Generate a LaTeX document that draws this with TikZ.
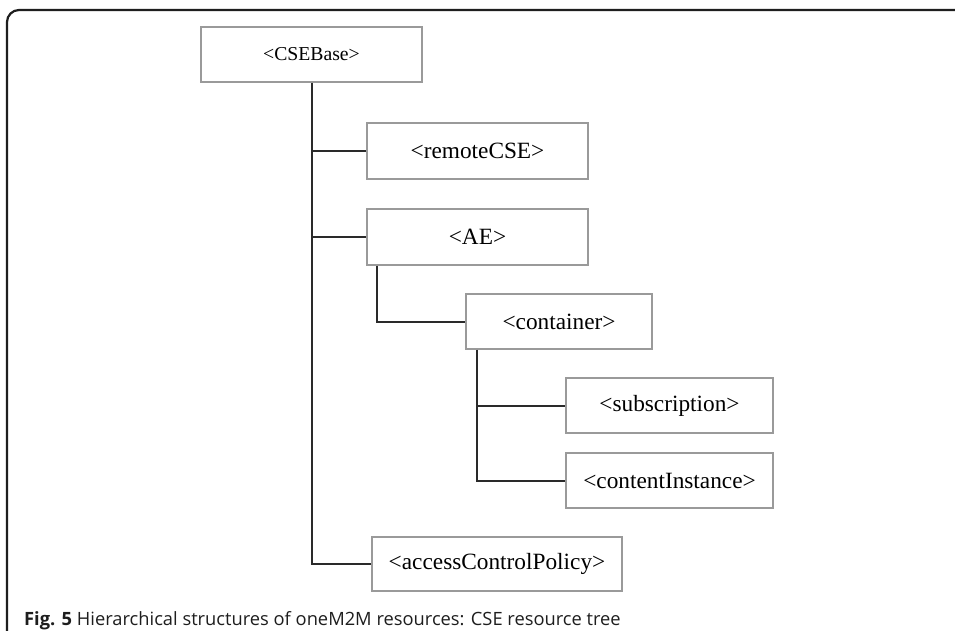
\documentclass[tikz,border=0pt]{standalone}
\usepackage{fontspec}
\setmainfont{Liberation Serif}
\newfontfamily\capfont{Open Sans}
\usetikzlibrary{calc}
\definecolor{boxline}{HTML}{9A9A9A}
\definecolor{wire}{HTML}{2A2A2A}
\definecolor{framec}{HTML}{1E1E1E}
\tikzset{
  resbox/.style={draw=boxline, line width=1.2pt, inner sep=0pt, anchor=center,
    font=\fontsize{23.3}{26}\selectfont},
  wireline/.style={draw=wire, line width=2pt},
}
\begin{document}
\begin{tikzpicture}[x=1pt, y=-1pt]
\useasboundingbox (0,0) rectangle (955,631);
\fill[white] (0,0) rectangle (955,631);
% frame
\draw[framec, line width=2.2pt, rounded corners=12pt] (7,640) -- (7,10) -- (965,10);
% boxes
\node[resbox, minimum width=221pt, minimum height=55pt, font=\fontsize{19.7}{22}\selectfont] (cse) at (311.5,54.5) {<CSEBase>};
\node[resbox, minimum width=221pt, minimum height=56pt] (remote) at (477.5,151) {<remoteCSE>};
\node[resbox, minimum width=221pt, minimum height=56pt] (ae) at (477.5,237) {<AE>};
\node[resbox, minimum width=186pt, minimum height=55pt] (cont) at (559,321.5) {<container>};
\node[resbox, minimum width=207pt, minimum height=55pt] (sub) at (669.5,405.5) {<subscription>};
\node[resbox, minimum width=207pt, minimum height=55pt] (ci) at (669.5,480.5) {<contentInstance>};
\node[resbox, minimum width=250pt, minimum height=54pt] (acp) at (497,564) {<accessControlPolicy>};
% connectors
\coordinate (aeleg) at ($(ae.south west)+(11,0)$);
\coordinate (contleg) at ($(cont.south west)+(12,0)$);
\draw[wireline] (cse.south) |- (acp.west);
\draw[wireline] (cse.south |- remote.west) -- (remote.west);
\draw[wireline] (cse.south |- ae.west) -- (ae.west);
\draw[wireline] (aeleg) |- (cont.west);
\draw[wireline] (contleg) |- (ci.west);
\draw[wireline] (contleg |- sub.west) -- (sub.west);
% caption
\node[anchor=base west, inner sep=0pt, text=framec, font=\capfont\fontsize{18.3}{21}\selectfont] (caption) at (24,625) {\textbf{Fig. 5} Hierarchical structures of oneM2M resources: CSE resource tree};
\end{tikzpicture}
\end{document}
